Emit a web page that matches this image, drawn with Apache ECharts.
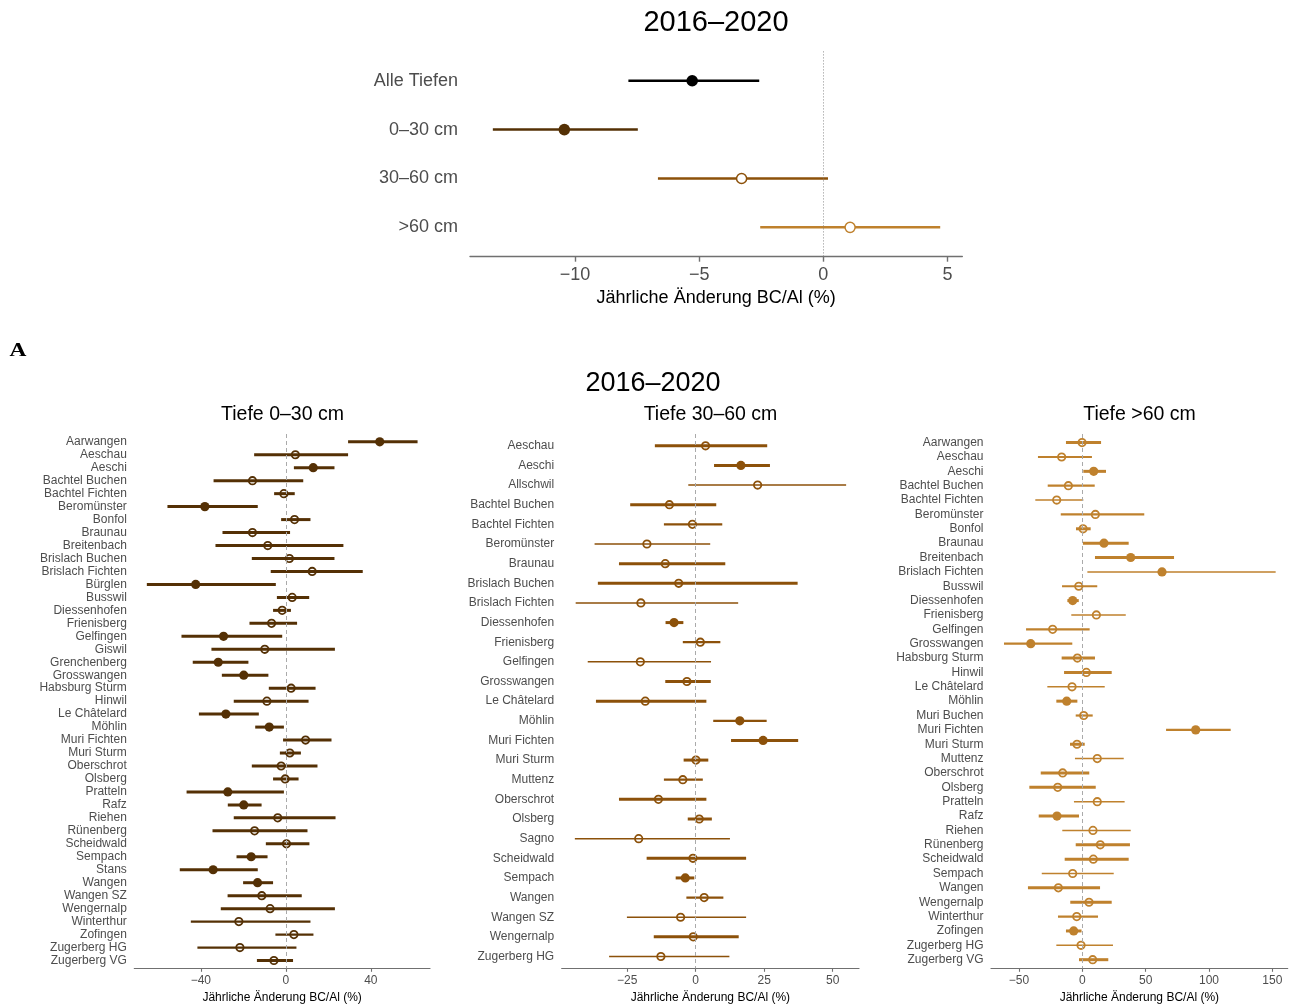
<!DOCTYPE html>
<html><head><meta charset="utf-8">
<script src="https://cdn.jsdelivr.net/npm/echarts@6/dist/echarts.min.js"></script>
<style>html,body{margin:0;padding:0;background:#fff}#c{width:1293px;height:1005px}</style>
</head><body><div id="c"></div><script>
// ---------- DATA ----------
const topCategories = ['Alle Tiefen', '0–30 cm', '30–60 cm', '>60 cm'];
const topEst  = [-5.28, -10.43, -3.29, 1.08];
const topLow  = [-7.85, -13.31, -6.66, -2.54];
const topHigh = [-2.58, -7.47, 0.19, 4.71];

const sites030 = ['Aarwangen','Aeschau','Aeschi','Bachtel Buchen','Bachtel Fichten','Beromünster','Bonfol','Braunau','Breitenbach','Brislach Buchen','Brislach Fichten','Bürglen','Busswil','Diessenhofen','Frienisberg','Gelfingen','Giswil','Grenchenberg','Grosswangen','Habsburg Sturm','Hinwil','Le Châtelard','Möhlin','Muri Fichten','Muri Sturm','Oberschrot','Olsberg','Pratteln','Rafz','Riehen','Rünenberg','Scheidwald','Sempach','Stans','Wangen','Wangen SZ','Wengernalp','Winterthur','Zofingen','Zugerberg HG','Zugerberg VG'];
const est030  = [44.2,4.5,12.9,-15.7,-0.9,-38.1,4.1,-15.7,-8.5,1.7,12.4,-42.4,3.0,-1.7,-6.7,-29.3,-9.9,-31.8,-19.8,2.5,-8.9,-28.2,-7.8,9.3,1.9,-2.2,-0.3,-27.3,-19.8,-3.8,-14.7,0.3,-16.3,-34.2,-13.3,-11.3,-7.4,-22.1,3.8,-21.6,-5.6];
const low030  = [29.3,-14.9,3.8,-34.0,-5.5,-55.7,-2.2,-29.8,-33.1,-16.0,-7.1,-65.4,-4.2,-6.0,-17.1,-49.1,-35.0,-43.8,-30.1,-8.0,-24.5,-40.9,-14.4,-1.3,-2.8,-16.0,-6.0,-46.7,-27.3,-24.5,-34.5,-9.4,-23.2,-49.9,-20.1,-27.4,-30.6,-44.7,-4.9,-41.6,-13.6];
const high030 = [62.0,29.3,22.9,8.2,4.2,-13.2,11.6,2.0,27.1,22.9,36.2,-4.7,11.0,2.4,5.3,-1.7,23.1,-17.6,-8.2,14.0,10.7,-12.7,-0.9,21.5,7.1,14.9,6.0,-0.9,-11.4,23.4,10.2,11.1,-8.6,-13.2,-6.0,7.5,23.1,11.6,13.0,5.0,3.4];
const precision030 = [3,3,3,3,3,3,3,3,3,3,3,3,3,3,3,3,3,3,3,3,3,3,3,3,3,3,3,3,3,3,3,3,3,3,3,3,3,2,2,2,3];

const sites3060 = ['Aeschau','Aeschi','Allschwil','Bachtel Buchen','Bachtel Fichten','Beromünster','Braunau','Brislach Buchen','Brislach Fichten','Diessenhofen','Frienisberg','Gelfingen','Grosswangen','Le Châtelard','Möhlin','Muri Fichten','Muri Sturm','Muttenz','Oberschrot','Olsberg','Sagno','Scheidwald','Sempach','Wangen','Wangen SZ','Wengernalp','Zugerberg HG'];
const est3060  = [3.6,16.5,22.6,-9.6,-1.2,-17.8,-11.1,-6.2,-20.0,-7.9,1.7,-20.2,-3.2,-18.4,16.1,24.6,0.1,-4.7,-13.6,1.3,-20.8,-1.0,-3.8,3.1,-5.5,-0.9,-12.7];
const low3060  = [-14.9,6.7,-2.7,-23.9,-11.6,-36.9,-28.0,-35.7,-43.8,-11.0,-4.7,-39.4,-11.1,-36.4,6.4,12.9,-4.4,-11.6,-28.0,-2.9,-44.1,-17.9,-7.3,-3.4,-25.1,-15.3,-31.6];
const high3060 = [26.1,27.1,54.9,7.5,9.7,5.3,10.8,37.2,15.5,-4.5,9.0,5.6,5.5,3.9,25.9,37.4,4.6,2.6,3.9,5.9,12.5,18.4,-0.5,10.1,18.4,15.7,12.3];
const precision3060 = [3,3,1,3,2,1,3,3,1,3,2,1,3,3,2,3,3,2,3,3,1,3,3,2,1,3,1];

const sites60 = ['Aarwangen','Aeschau','Aeschi','Bachtel Buchen','Bachtel Fichten','Beromünster','Bonfol','Braunau','Breitenbach','Brislach Fichten','Busswil','Diessenhofen','Frienisberg','Gelfingen','Grosswangen','Habsburg Sturm','Hinwil','Le Châtelard','Möhlin','Muri Buchen','Muri Fichten','Muri Sturm','Muttenz','Oberschrot','Olsberg','Pratteln','Rafz','Riehen','Rünenberg','Scheidwald','Sempach','Wangen','Wengernalp','Winterthur','Zofingen','Zugerberg HG','Zugerberg VG'];
const est60  = [-0.2,-16.3,9.0,-11.0,-20.2,10.3,0.6,17.1,38.2,62.9,-2.8,-7.6,11.1,-23.4,-40.7,-3.9,3.2,-8.1,-12.3,1.1,89.5,-4.2,11.8,-15.5,-19.4,11.8,-20.0,8.4,14.2,8.7,-7.6,-18.9,5.3,-4.4,-6.8,-1.0,8.2];
const low60  = [-12.9,-35.0,0.8,-27.3,-37.1,-17.0,-5.0,0.5,10.0,4.0,-16.0,-11.8,-8.7,-44.4,-61.8,-16.3,-14.4,-27.6,-20.5,-5.2,66.1,-9.7,-5.8,-32.8,-41.8,-6.6,-34.4,-15.8,-5.2,-13.9,-32.0,-42.9,-9.5,-19.2,-12.9,-20.5,-2.6];
const high60 = [14.8,7.6,18.7,9.8,0.8,48.9,6.6,36.6,72.4,152.6,11.8,-2.8,34.3,5.8,-7.9,10.0,23.2,17.7,-3.9,8.2,117.1,1.9,32.7,5.5,10.6,33.4,-2.6,38.2,37.6,36.6,24.8,14.0,23.2,12.4,-0.6,24.2,20.5];
const precision60 = [3,2,3,2,1,2,3,3,3,1,2,3,1,2,2,3,3,1,3,2,2,3,1,3,3,1,3,1,3,3,1,3,3,2,3,1,3];

const topTicks = [-10, -5, 0, 5];
const ticks030 = [-40, 0, 40];
const ticks3060 = [-25, 0, 25, 50];
const ticks60 = [-50, 0, 50, 100, 150];

// ---------- STYLE / LAYOUT ----------
const F = 'Liberation Sans, Arial, sans-serif';
const topColors = ['#000000', '#543005', '#8C510A', '#BF812D'];
const AXIS_TITLE = 'Jährliche Änderung BC/Al (%)';
const fmt = v => (v < 0 ? '\u2212' + Math.abs(v) : String(v));

function rows(low, high, est, prec) {
  return est.map((e, i) => [low[i], high[i], i, e, prec ? prec[i] : 0]);
}

function renderer(colorFn, big) {
  return function (params, api) {
    const lo = api.value(0), hi = api.value(1), idx = api.value(2), est = api.value(3), w = api.value(4);
    const p1 = api.coord([lo, idx]), p2 = api.coord([hi, idx]), pc = api.coord([est, idx]);
    const sig = lo > 0 || hi < 0;
    const color = colorFn(params.dataIndex);
    const lw = big ? 2.5 : [0, 1.5, 2.2, 3.0][w];
    const r = big ? 5.8 : 4.6;
    const sw = big ? 1.5 : 1.8;
    return {
      type: 'group',
      children: [
        { type: 'line', shape: { x1: p1[0], y1: p1[1], x2: p2[0], y2: p2[1] },
          style: { stroke: color, lineWidth: lw, lineCap: 'butt' } },
        { type: 'circle', shape: { cx: pc[0], cy: pc[1], r: sig ? r : r - sw / 2 },
          style: sig ? { fill: color, lineWidth: 0 } :
            { fill: big ? '#ffffff' : 'none', stroke: color, lineWidth: sw } }
      ]
    };
  };
}

const panels = [
  { names: topCategories, data: rows(topLow, topHigh, topEst), ticks: topTicks,
    min: -14.23, max: 5.6, left: 470, width: 492.3, top: 51.4, height: 205.3,
    big: true, color: i => topColors[i], zero: { type: [1, 2], color: '#808080', width: 0.9 } },
  { names: sites030, data: rows(low030, high030, est030, precision030), ticks: ticks030,
    min: -71.3, max: 67.85, left: 134.3, width: 295.7, top: 434, height: 534.3,
    big: false, color: () => '#543005', zero: { type: [4, 3], color: '#aaaaaa', width: 1 } },
  { names: sites3060, data: rows(low3060, high3060, est3060, precision3060), ticks: ticks3060,
    min: -48.9, max: 59.6, left: 561.7, width: 297.3, top: 434, height: 534.3,
    big: false, color: () => '#8C510A', zero: { type: [4, 3], color: '#aaaaaa', width: 1 } },
  { names: sites60, data: rows(low60, high60, est60, precision60), ticks: ticks60,
    min: -72.06, max: 162.1, left: 991, width: 296.7, top: 434, height: 534.3,
    big: false, color: () => '#BF812D', zero: { type: [4, 3], color: '#aaaaaa', width: 1 } }
];

const option = { animation: false, backgroundColor: '#ffffff', grid: [], xAxis: [], yAxis: [], series: [] };

panels.forEach((p, gi) => {
  const fs = p.big ? 18 : 12;
  option.grid.push({ left: p.left, top: p.top, width: p.width, height: p.height, containLabel: false, outerBoundsMode: 'none' });
  option.xAxis.push({
    type: 'value', gridIndex: gi, min: p.min, max: p.max,
    axisLine: { show: true, onZero: false, lineStyle: { color: '#707070', width: p.big ? 1.4 : 1.2 } },
    axisTick: { show: true, length: p.big ? 5 : 3.5, customValues: p.ticks, lineStyle: { color: '#707070', width: p.big ? 1.4 : 1.1 } },
    axisLabel: { customValues: p.ticks, formatter: fmt, color: '#4D4D4D', fontSize: fs, fontFamily: F, margin: p.big ? 9.5 : 6.5 },
    splitLine: { show: false },
    name: AXIS_TITLE, nameLocation: 'middle', nameGap: p.big ? 32.5 : 22.5,
    nameTextStyle: { color: '#000000', fontSize: fs, fontFamily: F }
  });
  option.yAxis.push({
    type: 'value', gridIndex: gi, inverse: true, min: -0.6, max: p.names.length - 0.4,
    axisLine: { show: false }, axisTick: { show: false }, splitLine: { show: false },
    axisLabel: { customValues: p.names.map((_, i) => i), formatter: v => p.names[Math.round(v)],
      color: '#4D4D4D', fontSize: fs, fontFamily: F, margin: p.big ? 12 : 7.5 }
  });
  option.series.push({
    type: 'scatter', xAxisIndex: gi, yAxisIndex: gi, data: [], z: 1, silent: true,
    markLine: { silent: true, symbol: 'none', label: { show: false },
      lineStyle: { type: p.zero.type, color: p.zero.color, width: p.zero.width },
      data: [{ xAxis: 0 }], animation: false }
  });
  option.series.push({
    type: 'custom', xAxisIndex: gi, yAxisIndex: gi, z: 3, silent: true,
    renderItem: renderer(p.color, p.big),
    encode: { x: [0, 1, 3], y: 2 },
    data: p.data
  });
});

option.graphic = [
  { type: 'text', x: 716, y: 23, style: { text: '2016–2020', font: '29px ' + F, fill: '#000', textAlign: 'center', textVerticalAlign: 'middle' } },
  { type: 'text', x: 9.5, y: 351, scaleX: 1.3, style: { text: 'A', font: 'bold 18px "Liberation Serif", "DejaVu Serif", serif', fill: '#000', textAlign: 'left', textVerticalAlign: 'middle' } },
  { type: 'text', x: 653, y: 384, style: { text: '2016–2020', font: '27px ' + F, fill: '#000', textAlign: 'center', textVerticalAlign: 'middle' } },
  { type: 'text', x: 282.5, y: 415, style: { text: 'Tiefe 0–30 cm', font: '19.5px ' + F, fill: '#000', textAlign: 'center', textVerticalAlign: 'middle' } },
  { type: 'text', x: 710.5, y: 415, style: { text: 'Tiefe 30–60 cm', font: '19.5px ' + F, fill: '#000', textAlign: 'center', textVerticalAlign: 'middle' } },
  { type: 'text', x: 1139.5, y: 415, style: { text: 'Tiefe >60 cm', font: '19.5px ' + F, fill: '#000', textAlign: 'center', textVerticalAlign: 'middle' } }
];

const chart = echarts.init(document.getElementById('c'), null, { renderer: 'canvas' });
chart.setOption(option);
</script></body></html>
